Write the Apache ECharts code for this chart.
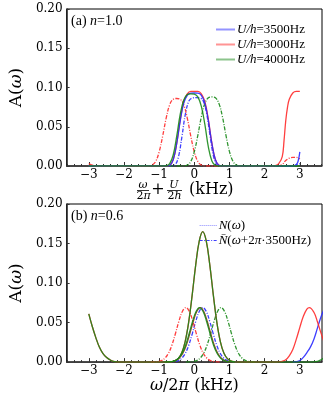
<!DOCTYPE html>
<html>
<head>
<meta charset="utf-8">
<script src="https://cdn.jsdelivr.net/npm/echarts@6/dist/echarts.min.js"></script>
<style>
html,body{margin:0;padding:0;background:#fff;}
#chart{width:328px;height:395px;}
</style>
</head>
<body>
<div id="chart"></div>
<script>
// 刻度
var xMin = -3.63, xMax = 3.63;
var xTicks = [-3, -2, -1, 0, 1, 2, 3];
var yTicks = [0, 0.05, 0.10, 0.15, 0.20];

// (a) n=1.0
var aRedSolid = [[-3.0,0.003],[-2.9,0.001],[-2.8,0],[-0.9,0],[-0.8,0.0001],[-0.7,0.001],[-0.6,0.008],[-0.5,0.029],[-0.4,0.059],[-0.3,0.082],[-0.2,0.092],[-0.1,0.095],[0,0.095],[0.1,0.095],[0.2,0.092],[0.3,0.082],[0.4,0.059],[0.5,0.029],[0.6,0.008],[0.7,0.001],[0.8,0],[2.2,0],[2.3,0.0005],[2.4,0.003],[2.5,0.012],[2.55,0.032],[2.6,0.058],[2.65,0.075],[2.7,0.085],[2.8,0.093],[2.9,0.095],[3.0,0.095]];
var aBlueSolid = [[-3.0,0],[-0.8,0.0001],[-0.7,0.001],[-0.6,0.008],[-0.5,0.0285],[-0.4,0.0575],[-0.3,0.080],[-0.2,0.090],[-0.1,0.0928],[0,0.093],[0.1,0.0928],[0.2,0.090],[0.3,0.080],[0.4,0.0575],[0.5,0.0285],[0.6,0.008],[0.7,0.001],[0.8,0],[2.8,0],[2.9,0.002],[2.95,0.006],[3.0,0.018]];
var aGreenSolid = [[-3.0,0],[-0.9,0],[-0.8,0.0003],[-0.7,0.003],[-0.6,0.014],[-0.5,0.038],[-0.4,0.066],[-0.3,0.084],[-0.2,0.091],[-0.1,0.092],[0,0.0915],[0.1,0.088],[0.2,0.076],[0.3,0.053],[0.4,0.024],[0.5,0.0065],[0.6,0.0008],[0.7,0],[3.0,0]];
var aBlueDash = [[-3.0,0],[-0.65,0],[-0.55,0.0013],[-0.45,0.0117],[-0.35,0.038],[-0.25,0.067],[-0.15,0.083],[-0.05,0.0867],[0.05,0.087],[0.15,0.0867],[0.25,0.083],[0.35,0.067],[0.45,0.038],[0.55,0.0117],[0.65,0.0013],[0.75,0],[2.8,0],[3.0,0.003]];
var aRedDash = [[-3.0,0],[-1.4,0],[-1.3,0.0001],[-1.2,0.0012],[-1.1,0.0057],[-1.0,0.018],[-0.9,0.038],[-0.8,0.061],[-0.7,0.078],[-0.6,0.085],[-0.5,0.086],[-0.4,0.085],[-0.3,0.078],[-0.2,0.061],[-0.1,0.038],[0,0.018],[0.1,0.0057],[0.2,0.0012],[0.3,0.0001],[0.4,0],[2.4,0],[2.5,0.002],[2.6,0.007],[2.7,0.010],[2.8,0.011],[2.9,0.011],[3.0,0.009]];
var aGreenDash = [[-3.0,0],[-0.4,0],[-0.3,0.0001],[-0.2,0.0012],[-0.1,0.0058],[0,0.0183],[0.1,0.039],[0.2,0.0627],[0.3,0.0796],[0.4,0.0869],[0.5,0.088],[0.6,0.0869],[0.7,0.0796],[0.8,0.0627],[0.9,0.039],[1.0,0.0183],[1.1,0.0058],[1.2,0.0012],[1.3,0.0001],[1.4,0],[3.0,0]];

// (b) n=0.6
var bRedSolid = [[-3.0,0.061],[-2.9,0.045],[-2.8,0.031],[-2.7,0.019],[-2.6,0.011],[-2.5,0.006],[-2.4,0.003],[-2.3,0.001],[-2.2,0.0003],[-2.1,0],[-0.76,0],[-0.66,0.0004],[-0.56,0.0015],[-0.46,0.0044],[-0.36,0.0115],[-0.26,0.026],[-0.16,0.0506],[-0.06,0.085],[0.04,0.123],[0.14,0.153],[0.24,0.165],[0.34,0.153],[0.44,0.123],[0.54,0.085],[0.64,0.0506],[0.74,0.026],[0.84,0.0115],[0.94,0.0044],[1.04,0.0015],[1.14,0.0004],[1.24,0],[2.3,0],[2.4,0.0003],[2.5,0.001],[2.6,0.003],[2.7,0.008],[2.8,0.016],[2.9,0.029],[3.0,0.044],[3.1,0.058],[3.2,0.067],[3.27,0.069],[3.4,0.063],[3.5,0.051],[3.6,0.037],[3.7,0.024]];
var bGreenSolid = [[-3.0,0.061],[-2.9,0.045],[-2.8,0.031],[-2.7,0.019],[-2.6,0.011],[-2.5,0.006],[-2.4,0.003],[-2.3,0.001],[-2.2,0.0003],[-2.1,0],[-0.76,0],[-0.66,0.0004],[-0.56,0.0015],[-0.46,0.0044],[-0.36,0.0115],[-0.26,0.026],[-0.16,0.0506],[-0.06,0.085],[0.04,0.123],[0.14,0.153],[0.24,0.165],[0.34,0.153],[0.44,0.123],[0.54,0.085],[0.64,0.0506],[0.74,0.026],[0.84,0.0115],[0.94,0.0044],[1.04,0.0015],[1.14,0.0004],[1.24,0],[3.3,0],[3.5,0.001],[3.6,0.003],[3.7,0.006]];
var bRedSolid2 = [[-0.83,0],[-0.73,0.0002],[-0.63,0.0006],[-0.53,0.0018],[-0.43,0.0048],[-0.33,0.0108],[-0.23,0.0211],[-0.13,0.0355],[-0.03,0.0513],[0.07,0.0641],[0.17,0.069],[0.27,0.0641],[0.37,0.0513],[0.47,0.0355],[0.57,0.0211],[0.67,0.0108],[0.77,0.0048],[0.87,0.0018],[0.97,0.0006],[1.07,0.0002],[1.17,0]];
var bGreenSolid2 = [[-0.85,0],[-0.75,0.0002],[-0.65,0.0006],[-0.55,0.0018],[-0.45,0.0048],[-0.35,0.0108],[-0.25,0.0211],[-0.15,0.0355],[-0.05,0.0513],[0.05,0.0641],[0.15,0.069],[0.25,0.0641],[0.35,0.0513],[0.45,0.0355],[0.55,0.0211],[0.65,0.0108],[0.75,0.0048],[0.85,0.0018],[0.95,0.0006],[1.05,0.0002],[1.15,0]];
var bBlueDash = [[-0.76,0],[-0.66,0.0002],[-0.56,0.0006],[-0.46,0.0018],[-0.36,0.0048],[-0.26,0.0108],[-0.16,0.0211],[-0.06,0.0355],[0.04,0.0513],[0.14,0.0641],[0.24,0.069],[0.34,0.0641],[0.44,0.0513],[0.54,0.0355],[0.64,0.0211],[0.74,0.0108],[0.84,0.0048],[0.94,0.0018],[1.04,0.0006],[1.14,0.0002],[1.24,0]];
var bRedDash = [[-1.24,0],[-1.14,0.0002],[-1.04,0.0006],[-0.94,0.0018],[-0.84,0.0048],[-0.74,0.0108],[-0.64,0.0211],[-0.54,0.0355],[-0.44,0.0513],[-0.34,0.0641],[-0.24,0.069],[-0.14,0.0641],[-0.04,0.0513],[0.06,0.0355],[0.16,0.0211],[0.26,0.0108],[0.36,0.0048],[0.46,0.0018],[0.56,0.0006],[0.66,0.0002],[0.76,0]];
var bGreenDash = [[-0.24,0],[-0.14,0.0002],[-0.04,0.0006],[0.06,0.0018],[0.16,0.0048],[0.26,0.0108],[0.36,0.0211],[0.46,0.0355],[0.56,0.0513],[0.66,0.0641],[0.76,0.069],[0.86,0.0641],[0.96,0.0513],[1.06,0.0355],[1.16,0.0211],[1.26,0.0108],[1.36,0.0048],[1.46,0.0018],[1.56,0.0006],[1.66,0.0002],[1.76,0]];
var bBlueSolid = [[2.8,0],[2.9,0.0005],[3.0,0.002],[3.1,0.006],[3.2,0.012],[3.3,0.019],[3.4,0.029],[3.5,0.043],[3.6,0.057],[3.7,0.068]];

var RED = '#ff2a2a', BLUE = '#2a2aff', GREEN = '#1a8a1a';
var dashDot = [4, 1.5, 1, 1.5];
var serif = 'DejaVu Serif', times = 'Liberation Serif';

// 次刻度 0.2
var minorTicks = [];
for (var i = -18; i <= 18; i++) {
    if (i % 5 !== 0) minorTicks.push(+(i * 0.2).toFixed(1));
}

function xMain(grid, name) {
    return {
        type: 'value', gridIndex: grid, min: xMin, max: xMax, position: 'bottom',
        name: name || '', nameLocation: 'middle', nameGap: 14,
        nameTextStyle: {fontFamily: serif, fontSize: 16, color: '#000',
            rich: {i: {fontFamily: serif, fontSize: 16, fontStyle: 'italic', color: '#000'}}},
        axisLine: {show: true, onZero: false, lineStyle: {color: '#333', width: 1.5}},
        axisTick: {show: true, inside: true, length: 4, customValues: xTicks, lineStyle: {color: '#333'}},
        axisLabel: {customValues: xTicks, margin: 3, fontFamily: serif, fontSize: 12, color: '#000',
            formatter: function (v) { return v < 0 ? '\u2212' + (-v) : String(v); }},
        splitLine: {show: false}
    };
}
function xMinor(grid) {
    return {
        type: 'value', gridIndex: grid, min: xMin, max: xMax, position: 'bottom',
        axisLine: {show: false, onZero: false},
        axisTick: {show: true, inside: true, length: 2, customValues: minorTicks, lineStyle: {color: '#333'}},
        axisLabel: {show: false},
        splitLine: {show: false}
    };
}
function yAxis(grid) {
    return {
        type: 'value', gridIndex: grid, min: 0, max: 0.2, interval: 0.05,
        name: 'A({i|ω})', nameLocation: 'middle', nameGap: 30,
        nameTextStyle: {fontFamily: serif, fontSize: 17, color: '#000',
            rich: {i: {fontFamily: serif, fontSize: 17, fontStyle: 'italic', color: '#000'}}},
        axisLine: {show: true, onZero: false, lineStyle: {color: '#222', width: 1.5}},
        axisTick: {show: true, inside: true, length: 3, lineStyle: {color: '#333'}},
        axisLabel: {margin: 4, fontFamily: serif, fontSize: 12, color: '#000',
            formatter: function (v) { return v.toFixed(2); }},
        splitLine: {show: false}
    };
}
function line(name, data, color, dash, xi, yi, z) {
    return {
        type: 'line', name: name, data: data, xAxisIndex: xi, yAxisIndex: yi,
        showSymbol: false, symbol: 'none', smooth: 0.4, z: z || 2,
        lineStyle: {color: color, width: 1.3, type: dash ? dashDot : 'solid', opacity: 0.9},
        itemStyle: {color: color}
    };
}

var richLeg = {i: {fontFamily: times, fontStyle: 'italic', fontSize: 13, lineHeight: 11}};
var fr = {fontFamily: serif, fontSize: 11, color: '#000'};
var noDot = {opacity: 0};

var myChart = echarts.init(document.getElementById('chart'));
myChart.setOption({
    animation: false,
    title: [
        {text: '(a) {i|n}=1.0', left: 66, top: 9,
            textStyle: {fontFamily: times, fontSize: 14, fontWeight: 'normal', color: '#000',
                rich: {i: {fontFamily: times, fontSize: 14, fontStyle: 'italic'}}}},
        {text: '(b) {i|n}=0.6', left: 66, top: 204,
            textStyle: {fontFamily: times, fontSize: 14, fontWeight: 'normal', color: '#000',
                rich: {i: {fontFamily: times, fontSize: 14, fontStyle: 'italic'}}}}
    ],
    grid: [
        {left: 54, right: 6, top: 9, height: 157, show: true, borderColor: '#000', borderWidth: 1},
        {left: 54, right: 6, top: 204, height: 158.7, show: true, borderColor: '#000', borderWidth: 1}
    ],
    xAxis: [xMain(0), xMinor(0), xMain(1, '{i|ω}/2{i|π} (kHz)'), xMinor(1)],
    yAxis: [yAxis(0), yAxis(1)],
    legend: [
        {
            orient: 'vertical', right: 18, top: 18, itemWidth: 19, itemHeight: 8, itemGap: 2,
            itemStyle: noDot,
            data: [
                {name: 'U/h=3500Hz', itemStyle: noDot, lineStyle: {opacity: 0.5, type: 'solid'}},
                {name: 'U/h=3000Hz', itemStyle: noDot, lineStyle: {opacity: 0.5, type: 'solid'}},
                {name: 'U/h=4000Hz', itemStyle: noDot, lineStyle: {opacity: 0.5, type: 'solid'}}
            ],
            formatter: function (n) { return '{i|U/h}' + n.slice(3); },
            textStyle: {fontFamily: times, fontSize: 13, color: '#000', lineHeight: 11, padding: [0, 0, 0, -3], rich: richLeg}
        },
        {
            orient: 'vertical', right: 12, top: 214, itemWidth: 17, itemHeight: 8, itemGap: 2,
            itemStyle: noDot,
            data: [
                {name: 'N(ω)', itemStyle: noDot, lineStyle: {color: '#5a5aff', opacity: 0.7, type: [1, 1], width: 1.2}},
                {name: 'N\u0304(ω+2π·3500Hz)', itemStyle: noDot, lineStyle: {color: BLUE, opacity: 0.9, type: [3, 1.5, 1, 1.5], width: 1.1}}
            ],
            formatter: function (n) {
                return n === 'N(ω)' ? '{i|N}({i|ω})' : '{i|N\u0304}({i|ω}+2{i|π}·3500Hz)';
            },
            textStyle: {fontFamily: times, fontSize: 13, color: '#000', lineHeight: 11, padding: [0, 0, 0, -3], rich: richLeg}
        }
    ],
    graphic: [
        {type: 'text', style: Object.assign({text: 'ω', x: 143, y: 185, fontStyle: 'italic', textAlign: 'center', textVerticalAlign: 'middle'}, fr)},
        {type: 'line', shape: {x1: 137, y1: 190.5, x2: 149, y2: 190.5}, style: {stroke: '#000', lineWidth: 0.8}},
        {type: 'text', style: Object.assign({text: '2{i|π}', x: 143.5, y: 196, textAlign: 'center', textVerticalAlign: 'middle',
            rich: {i: {fontFamily: serif, fontSize: 11, fontStyle: 'italic'}}}, fr)},
        {type: 'text', style: {text: '+', x: 158, y: 190, fontFamily: serif, fontSize: 16, fill: '#000', textAlign: 'center', textVerticalAlign: 'middle'}},
        {type: 'text', style: Object.assign({text: 'U', x: 174, y: 185, fontStyle: 'italic', textAlign: 'center', textVerticalAlign: 'middle'}, fr)},
        {type: 'line', shape: {x1: 167, y1: 190.5, x2: 182, y2: 190.5}, style: {stroke: '#000', lineWidth: 0.8}},
        {type: 'text', style: Object.assign({text: '2{i|h}', x: 174.5, y: 196, textAlign: 'center', textVerticalAlign: 'middle',
            rich: {i: {fontFamily: serif, fontSize: 11, fontStyle: 'italic'}}}, fr)},
        {type: 'text', style: {text: '(kHz)', x: 189, y: 190, fontFamily: serif, fontSize: 16, fill: '#000', textAlign: 'left', textVerticalAlign: 'middle'}}
    ],
    series: [
        line('aBlueDash', aBlueDash, BLUE, true, 0, 0, 2),
        line('aRedDash', aRedDash, RED, true, 0, 0, 2),
        line('aGreenDash', aGreenDash, GREEN, true, 0, 0, 2),
        line('U/h=3000Hz', aRedSolid, RED, false, 0, 0, 3),
        line('U/h=3500Hz', aBlueSolid, BLUE, false, 0, 0, 3),
        line('U/h=4000Hz', aGreenSolid, GREEN, false, 0, 0, 3),

        line('N\u0304(ω+2π·3500Hz)', bBlueDash, BLUE, true, 2, 1, 2),
        line('bRedDash', bRedDash, RED, true, 2, 1, 2),
        line('bGreenDash', bGreenDash, GREEN, true, 2, 1, 2),
        line('N(ω)', bBlueSolid, BLUE, false, 2, 1, 3),
        line('bRedSolid', bRedSolid, RED, false, 2, 1, 3),
        line('bRedSolid2', bRedSolid2, '#8a3a1a', false, 2, 1, 3),
        line('bGreenSolid', bGreenSolid, GREEN, false, 2, 1, 4),
        line('bGreenSolid2', bGreenSolid2, GREEN, false, 2, 1, 4)
    ]
});
</script>
</body>
</html>
